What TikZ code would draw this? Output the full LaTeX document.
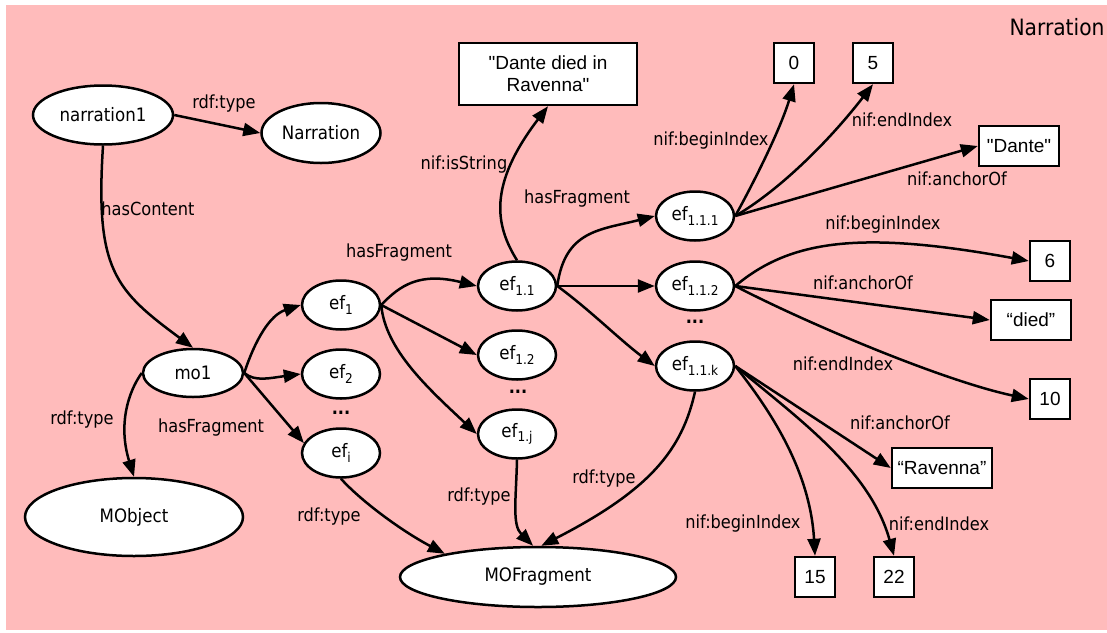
\documentclass[tikz,border=0pt]{standalone}
\usepackage{fontspec}
\setmainfont{DejaVu Sans Condensed}
\newfontfamily\boxfont{Liberation Sans}
\usetikzlibrary{arrows.meta,shapes.geometric}
\definecolor{canvaspink}{RGB}{255,187,187}
% lowered index for the fragment names
\newcommand\idx[1]{\raisebox{-0.45ex}{\fontsize{13.5}{14}\selectfont #1}}

\tikzset{
  res/.style={ellipse, draw, fill=white, line width=2.5pt, inner sep=0pt,
              font=\fontsize{18.5}{21}\selectfont},
  frag/.style={res, minimum width=78pt, minimum height=49pt},
  lit/.style={rectangle, draw, fill=white, line width=2.5pt, inner sep=0pt,
              align=center, font=\boxfont\fontsize{19}{22}\selectfont},
  num/.style={lit, minimum width=40pt, minimum height=40pt},
  rel/.style={line width=2.5pt, -{Triangle[length=17pt,width=13pt]}},
  lbl/.style={inner sep=0pt, font=\fontsize{18}{21}\selectfont},
  gap/.style={inner sep=0pt, font=\bfseries\fontsize{18}{21}\selectfont},
}

\begin{document}
\begin{tikzpicture}[x=1pt,y=-1pt]
\useasboundingbox (0,0) rectangle (1107,632);
\fill[canvaspink] (6,5) rectangle (1107,630);
\node[font=\fontsize{22.5}{26}\selectfont, inner sep=0pt] (title) at (1057,27) {Narration};

% resources
\node[res, minimum width=140pt, minimum height=59pt] (n1) at (103,115) {narration1};
\node[res, minimum width=119pt, minimum height=60pt] (Nar) at (321,133) {Narration};
\node[res, minimum width=100pt, minimum height=48pt] (mo1) at (193,373) {mo1};
\node[res, minimum width=218pt, minimum height=78pt] (MObj) at (134,517) {MObject};
\node[res, minimum width=276pt, minimum height=60pt] (MOF) at (538,577) {MOFragment};

\node[frag] (ef1) at (341,305) {ef\idx{1}};
\node[frag] (ef2) at (341,374) {ef\idx{2}};
\node[frag] (efi) at (341,453) {ef\idx{i}};
\node[gap] (d1) at (341,413) {...};

\node[frag] (ef11) at (517,286) {ef\idx{1.1}};
\node[frag] (ef12) at (517,355) {ef\idx{1.2}};
\node[frag] (ef1j) at (517,434) {ef\idx{1.j}};
\node[gap] (d2) at (518,392) {...};

\node[frag] (ef111) at (695,216) {ef\idx{1.1.1}};
\node[frag] (ef112) at (695,286) {ef\idx{1.1.2}};
\node[frag] (ef11k) at (695,366) {ef\idx{1.1.k}};
\node[gap] (d3) at (695,322) {...};

% literals
\node[lit, minimum width=178pt, minimum height=62pt] (str) at (548,74) {"Dante died in\\Ravenna"};
\node[num] (b0) at (794,63) {0};
\node[num] (b5) at (873,63) {5};
\node[lit, minimum width=80pt, minimum height=40pt] (dq) at (1019,146) {"Dante"};
\node[num] (b6) at (1050,261) {6};
\node[lit, minimum width=80pt, minimum height=40pt] (died) at (1031,320) {“died”};
\node[num] (b10) at (1050,399) {10};
\node[lit, minimum width=100pt, minimum height=40pt] (rav) at (942,468) {“Ravenna”};
\node[num] (b15) at (815,577) {15};
\node[num] (b22) at (894,577) {22};

% relations
\draw[rel] (n1.east) -- (Nar.west);
\draw[rel] (n1.south) .. controls (95,270) and (115,290) .. (mo1.north);
\draw[rel] (mo1.east) .. controls (255,340) and (270,315) .. (ef1.west);
\draw[rel] (mo1.east) .. controls (255,382) and (270,378) .. (ef2.west);
\draw[rel] (mo1.east) -- (efi.165);
\draw[rel] (mo1.west) .. controls (128,392) and (118,425) .. (MObj.north);

\draw[rel] (ef1.east) .. controls (400,285) and (420,272) .. (ef11.west);
\draw[rel] (ef1.east) -- (ef12.west);
\draw[rel] (ef1.east) .. controls (385,350) and (430,390) .. (ef1j.west);

\draw[rel] (ef11.north) .. controls (495,225) and (488,185) .. (str.south);
\draw[rel] (ef11.east) .. controls (565,230) and (600,230) .. (ef111.west);
\draw[rel] (ef11.east) -- (ef112.west);
\draw[rel] (ef11.east) .. controls (590,310) and (620,340) .. (ef11k.west);

\draw[rel] (efi.south) .. controls (360,500) and (400,530) .. (MOF.166);
\draw[rel] (ef1j.south) .. controls (516,500) and (512,525) .. (MOF.99);
\draw[rel] (ef11k.south) .. controls (682,450) and (650,490) .. (MOF.84);

\draw[rel] (ef111.east) .. controls (755,180) and (780,130) .. (b0.south);
\draw[rel] (ef111.east) .. controls (780,190) and (830,140) .. (b5.south);
\draw[rel] (ef111.east) -- (dq.west);

\draw[rel] (ef112.east) .. controls (790,240) and (860,230) .. (b6.west);
\draw[rel] (ef112.east) -- (died.west);
\draw[rel] (ef112.east) .. controls (800,320) and (940,380) .. (b10.west);

\draw[rel] (ef11k.east) -- (rav.west);
\draw[rel] (ef11k.east) .. controls (770,410) and (810,470) .. (b15.north);
\draw[rel] (ef11k.east) .. controls (800,420) and (870,470) .. (b22.north);

% relation labels
\node[lbl] (l1) at (224,104) {rdf:type};
\node[lbl] (l2) at (148,209) {hasContent};
\node[lbl] (l3) at (82,420) {rdf:type};
\node[lbl] (l4) at (211,428) {hasFragment};
\node[lbl] (l5) at (329,517) {rdf:type};
\node[lbl] (l6) at (399,253) {hasFragment};
\node[lbl] (l7) at (464,165) {nif:isString};
\node[lbl] (l8) at (577,199) {hasFragment};
\node[lbl] (l9) at (711,141) {nif:beginIndex};
\node[lbl] (l10) at (902,120) {nif:endIndex};
\node[lbl] (l11) at (957,179) {nif:anchorOf};
\node[lbl] (l12) at (883,225) {nif:beginIndex};
\node[lbl] (l13) at (863,283) {nif:anchorOf};
\node[lbl] (l14) at (843,364) {nif:endIndex};
\node[lbl] (l15) at (900,423) {nif:anchorOf};
\node[lbl] (l16) at (743,524) {nif:beginIndex};
\node[lbl] (l17) at (939,524) {nif:endIndex};
\node[lbl] (l18) at (479,497) {rdf:type};
\node[lbl] (l19) at (604,479) {rdf:type};
\end{tikzpicture}
\end{document}
